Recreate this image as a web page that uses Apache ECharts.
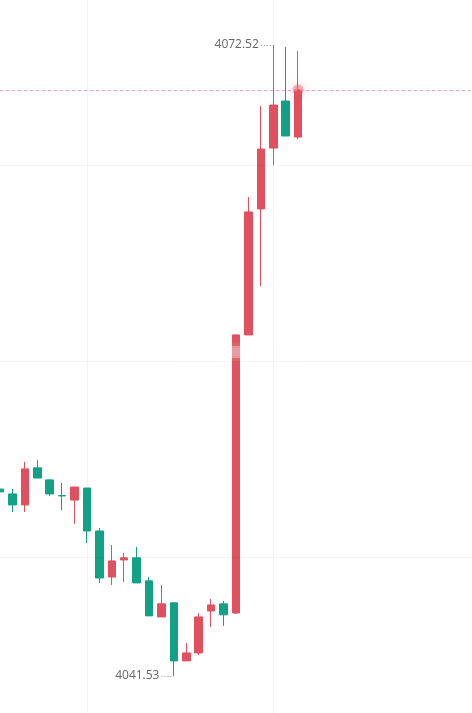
<!DOCTYPE html>
<html>
<head>
<meta charset="utf-8">
<script src="https://cdn.jsdelivr.net/npm/echarts@6/dist/echarts.min.js"></script>
<style>
  html, body { margin: 0; padding: 0; background: #fff; }
  #main { width: 472px; height: 713px; }
</style>
</head>
<body>
<div id="main"></div>
<script>
// bars: open, close, low, high
let opens  = [4050.71, 4050.47, 4049.93, 4051.75, 4051.16, 4050.39, 4050.17, 4050.76, 4048.65, 4046.39, 4047.23, 4047.33, 4046.20,
              4044.43, 4045.12, 4042.27, 4042.66, 4044.72, 4045.07, 4044.62, 4058.28, 4064.47, 4067.46, 4069.77, 4068.00]
let closes = [4050.57, 4049.93, 4051.70, 4051.25, 4050.47, 4050.37, 4050.81, 4048.65, 4046.34, 4047.18, 4047.33, 4046.10, 4044.48,
              4045.07, 4042.27, 4042.66, 4044.43, 4045.02, 4044.53, 4058.28, 4064.32, 4067.41, 4069.57, 4068.05, 4070.31]
let lows   = [4050.57, 4049.58, 4049.58, 4051.25, 4050.37, 4049.68, 4049.00, 4048.06, 4046.10, 4046.00, 4046.15, 4046.10, 4044.48,
              4044.43, 4041.53, 4042.27, 4042.56, 4043.94, 4043.99, 4044.58, 4058.28, 4060.68, 4066.63, 4068.05, 4067.90]
let highs  = [4050.71, 4050.71, 4052.04, 4052.14, 4051.21, 4051.01, 4050.81, 4050.76, 4048.80, 4047.96, 4047.57, 4047.87, 4046.39,
              4046.00, 4045.12, 4043.15, 4044.62, 4045.31, 4045.21, 4058.28, 4065.05, 4069.52, 4072.52, 4072.42, 4072.23]
let totalSlots = 39
// horizontal grid levels and the slots with vertical grid lines
let gridLevels = [4066.63, 4057.00, 4047.37]
let gridSlots = [7, 22]

let red = '#e0505f'
let green = '#13a185'

let categories = []
for (let i = 0; i < totalSlots; i++) categories.push(String(i))

let kData = opens.map((o, i) => [o, closes[i], lows[i], highs[i]])

let maxIdx = highs.indexOf(Math.max(...highs))
let minIdx = lows.indexOf(Math.min(...lows))
let lastIdx = closes.length - 1
let lastClose = closes[lastIdx]

let myChart = echarts.init(document.getElementById('main'))

let leader = function (idx, val) {
  return [
    { coord: [String(idx - 1), val], label: { formatter: val.toFixed(2) } },
    { coord: [String(idx), val] }
  ]
}

let option = {
  animation: false,
  grid: { left: 0, right: 0, top: 0, bottom: 0 },
  xAxis: {
    type: 'category',
    data: categories,
    boundaryGap: false,
    axisLine: { show: false },
    axisTick: { show: false },
    axisLabel: { show: false },
    splitLine: {
      show: true,
      interval: function (index) { return gridSlots.indexOf(index) >= 0 },
      lineStyle: { color: '#f3f3f3', width: 1 }
    }
  },
  yAxis: {
    type: 'value',
    min: 4039.71,
    max: 4074.73,
    axisLine: { show: false },
    axisTick: { show: false },
    axisLabel: { show: false },
    splitLine: { show: false }
  },
  graphic: [
    {
      type: 'rect',
      left: 180,
      top: 346,
      z: 100,
      shape: { width: 113, height: 12, r: 6 },
      style: { fill: 'rgba(255,255,255,0.3)', shadowBlur: 10, shadowColor: 'rgba(255,255,255,0.8)' }
    }
  ],
  series: [
    {
      // background grid lines
      type: 'line',
      data: [],
      z: 0,
      silent: true,
      markLine: {
        silent: true,
        symbol: ['none', 'none'],
        label: { show: false },
        lineStyle: { color: 'rgba(0,0,0,0.045)', type: 'solid', width: 1 },
        data: gridLevels.map(v => ({ yAxis: v }))
      }
    },
    {
      type: 'candlestick',
      data: kData,
      barWidth: 8,
      z: 2,
      itemStyle: {
        color: red,
        color0: green,
        borderColor: red,
        borderColor0: green,
        borderWidth: 1
      },
      markLine: {
        silent: true,
        symbol: ['none', 'none'],
        data: [
          {
            yAxis: lastClose,
            lineStyle: { color: '#f3a6b0', type: [3, 3], width: 1 },
            label: { show: false }
          },
          leader(maxIdx, highs[maxIdx]),
          leader(minIdx, lows[minIdx])
        ],
        lineStyle: { color: '#8a8a8a', type: [1, 2], width: 1 },
        label: {
          show: true,
          position: 'start',
          distance: 0,
          padding: [1, 2, 1, 1],
          backgroundColor: '#fff',
          color: '#666',
          fontSize: 12,
          fontFamily: 'Open Sans, sans-serif'
        }
      }
    },
    {
      type: 'scatter',
      data: [[String(lastIdx), lastClose]],
      symbolSize: 11,
      z: 5,
      itemStyle: {
        color: 'rgba(226,80,96,0.5)',
        shadowBlur: 8,
        shadowColor: 'rgba(226,80,96,0.8)'
      }
    }
  ]
}
myChart.setOption(option, true)
</script>
</body>
</html>
